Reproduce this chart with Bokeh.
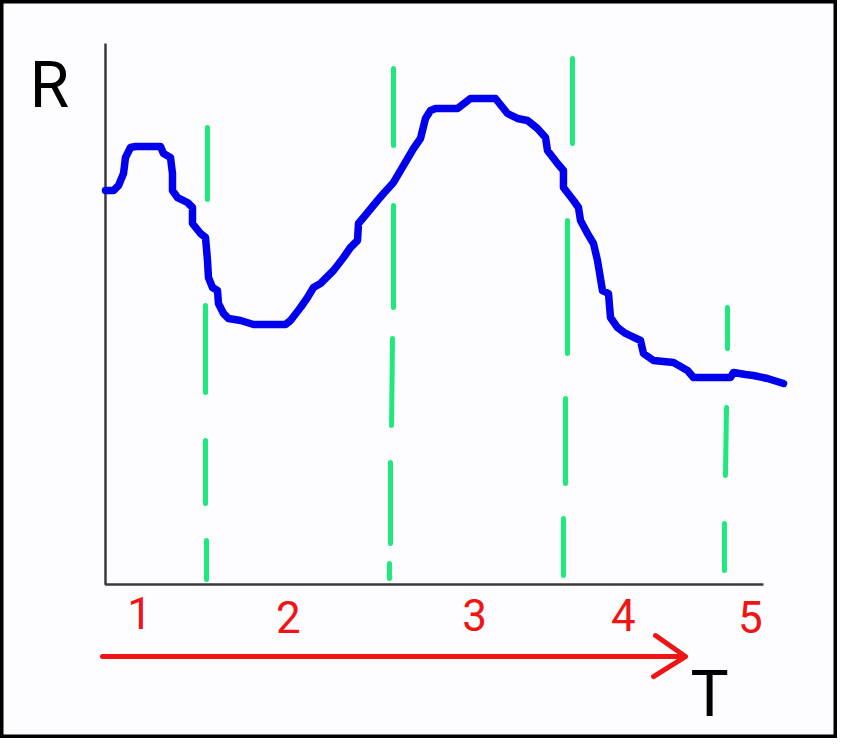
from bokeh.plotting import figure
from bokeh.models import Range1d
from bokeh.core.properties import value
from bokeh.embed import file_html
from bokeh.resources import INLINE

# ---- data ----
# response curve R(T)
t_vals = [0.000, 0.122, 0.198, 0.274, 0.304, 0.380, 0.456, 0.836, 0.881, 0.988,
          1.018, 1.018, 1.094, 1.246, 1.322, 1.322, 1.444, 1.520, 1.550, 1.565,
          1.626, 1.702, 1.717, 1.793, 1.869, 2.052, 2.249, 2.736, 2.812, 2.964,
          3.070, 3.161, 3.267, 3.465, 3.617, 3.723, 3.830, 3.845, 3.921, 4.134,
          4.225, 4.377, 4.483, 4.681, 4.787, 4.863, 4.939, 5.015, 5.350, 5.547,
          5.927, 6.109, 6.261, 6.413, 6.565, 6.687, 6.717, 6.869, 6.960, 6.960,
          7.112, 7.188, 7.219, 7.325, 7.416, 7.477, 7.553, 7.644, 7.675, 7.781,
          7.903, 8.131, 8.176, 8.328, 8.632, 8.845, 8.936, 9.498, 9.544, 9.726,
          9.848, 10.061, 10.304]
r_vals = [7.283, 7.283, 7.375, 7.597, 7.893, 8.078, 8.096, 8.096, 7.967, 7.893,
          7.597, 7.283, 7.153, 7.061, 6.969, 6.673, 6.488, 6.414, 5.989, 5.675,
          5.490, 5.434, 5.194, 5.009, 4.917, 4.880, 4.806, 4.806, 4.880, 5.120,
          5.305, 5.490, 5.564, 5.804, 6.044, 6.229, 6.359, 6.673, 6.784, 7.098,
          7.227, 7.431, 7.652, 8.059, 8.244, 8.614, 8.762, 8.799, 8.799, 8.983,
          8.983, 8.706, 8.614, 8.577, 8.429, 8.262, 8.022, 7.782, 7.652, 7.338,
          7.098, 6.969, 6.728, 6.488, 6.303, 5.989, 5.434, 5.379, 4.935, 4.750,
          4.640, 4.510, 4.270, 4.140, 4.104, 3.956, 3.826, 3.826, 3.919, 3.882,
          3.863, 3.808, 3.715]

# green dashed phase boundaries (hand-drawn dash pieces)
dash_t0 = [1.550, 1.520, 1.520, 1.535,
           4.377, 4.377, 4.362, 4.331, 4.316,
           7.097, 7.021, 6.991, 6.960,
           9.453, 9.438, 9.407]
dash_r0 = [8.447, 5.157, 2.662, 0.813,
           9.538, 7.006, 4.547, 2.255, 0.388,
           9.723, 6.728, 3.438, 1.220,
           5.120, 3.272, 1.128]
dash_t1 = [1.550, 1.520, 1.520, 1.535,
           4.377, 4.377, 4.347, 4.331, 4.316,
           7.097, 7.021, 6.991, 6.960,
           9.453, 9.422, 9.407]
dash_r1 = [7.116, 3.549, 1.497, 0.092,
           8.115, 5.120, 2.939, 0.758, 0.111,
           8.152, 4.270, 1.867, 0.166,
           4.362, 2.015, 0.259]

# phase labels
phase_labels = ["1", "2", "3", "4", "5"]
phase_t = [0.517, 2.781, 5.608, 7.872, 9.802]
phase_r = [-0.518, -0.592, -0.555, -0.555, -0.592]

# axes (drawn as a polyline: top of R axis, origin, end of T axis)
axis_t = [0.0, 0.0, 10.0]
axis_r = [10.0, 0.0, 0.0]

# red time arrow: shaft and head
arrow_shaft_t = [-0.046, 8.799]
arrow_shaft_r = [-1.331, -1.331]
arrow_head_t = [8.359, 8.815, 8.328]
arrow_head_r = [-0.943, -1.331, -1.701]

# axis letters
letter_text = ["R", "T"]
letter_t = [-0.851, 9.179]
letter_r = [9.224, -2.033]

# ---- figure ----
p = figure(width=837, height=738,
           x_range=Range1d(-1.5957, 11.1246), y_range=Range1d(-2.8466, 10.7948),
           output_backend="svg", toolbar_location=None, min_border=0,
           x_axis_location=None, y_axis_location=None)
p.grid.visible = False
p.background_fill_color = "#fdfdff"
p.border_fill_color = "#fdfdff"
p.outline_line_color = "black"
p.outline_line_width = 6

p.line(axis_t, axis_r, line_color="#3a3a3a", line_width=2.5)

p.segment(x0=dash_t0, y0=dash_r0, x1=dash_t1, y1=dash_r1,
          line_color="#1eea7c", line_width=5, line_cap="round")

p.line(t_vals, r_vals, line_color="#0000ee", line_width=7.5,
       line_join="round", line_cap="round")

p.line(arrow_shaft_t, arrow_shaft_r, line_color="#f01414", line_width=5, line_cap="round")
p.line(arrow_head_t, arrow_head_r, line_color="#f01414", line_width=5,
       line_cap="round", line_join="round")

p.text(x=phase_t, y=phase_r, text=phase_labels, text_font=value("Roboto"),
       text_font_size="44px", text_align="center", text_baseline="alphabetic",
       text_color="#f01414")

p.text(x=letter_t, y=letter_r, text=letter_text, text_font=value("Roboto"),
       text_font_size="64px", text_align="center", text_baseline="alphabetic",
       text_color="black")

open("out.html", "w").write(file_html(p, INLINE))
